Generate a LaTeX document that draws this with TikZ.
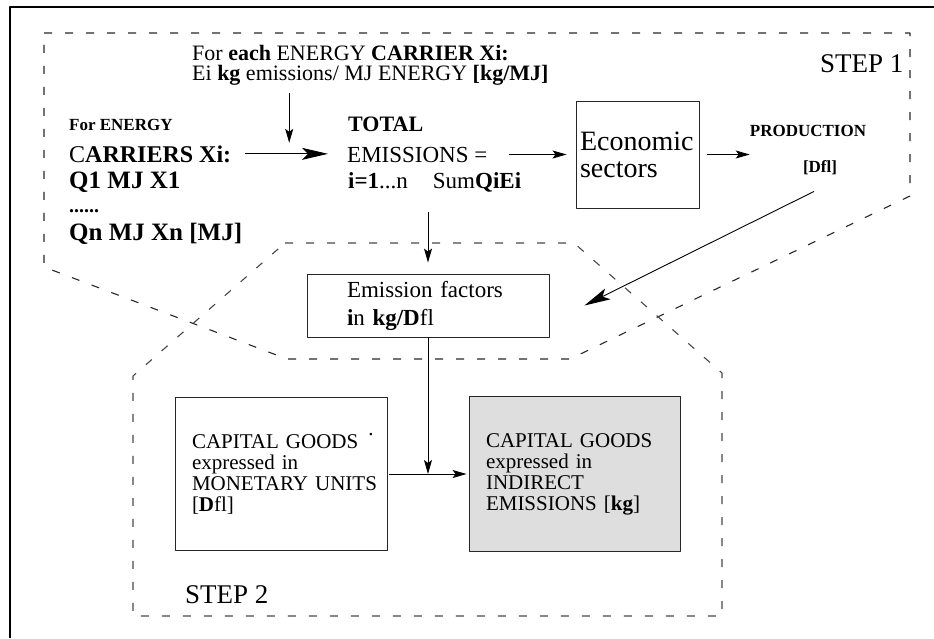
\documentclass[tikz,border=0pt]{standalone}
\usepackage{fontspec}
\setmainfont{Liberation Serif}
\usetikzlibrary{arrows.meta,calc}
\definecolor{stepgray}{RGB}{40,40,40}
\definecolor{indirectgray}{RGB}{222,222,222}

\begin{document}
\begin{tikzpicture}[x=1pt,y=-1pt,line join=round,
  txt/.style={inner sep=0pt,anchor=base west},
  flow/.style={-{Stealth[length=14pt,width=8pt,inset=3pt]},line width=0.9pt},
  bigflow/.style={-{Stealth[length=26pt,width=12pt,inset=6pt]},line width=0.9pt},
  stepline/.style={stepgray,line width=1.1pt,dash pattern=on 8pt off 13pt},
  sectorbox/.style={draw=black!85,line width=0.9pt,inner ysep=0pt,align=left}]
 \useasboundingbox (0,0) rectangle (934,638);
 % outer frame
 \draw[line width=2.5pt] (10,638) -- (10,7) -- (934,7);
 % the two steps
 \draw[stepline] (44,33) -- (910,33) -- (910,196) -- (570,359)
  -- (287,359) -- (44,267) -- cycle;
 \draw[stepline,stepgray!85] (285,243) -- (574,243) -- (722,373)
  -- (722,616) -- (133,616) -- (133,376) -- cycle;
 \node[txt,font=\fontsize{27}{27}\selectfont] (stepone) at (820,72) {STEP 1};
 \node[txt,font=\fontsize{27}{27}\selectfont] (steptwo) at (185,603) {STEP 2};
 % step 1
 \node[inner sep=0pt,anchor=north west,align=left,font=\fontsize{22}{20}\selectfont]
  (unitnote) at (192,45)
  {For \textbf{each} ENERGY \textbf{CARRIER Xi:}\\
   Ei \textbf{kg} emissions/ MJ ENERGY \textbf{[kg/MJ]}};
 \node[txt,font=\fontsize{17}{17}\selectfont\bfseries] (forenergy) at (69,130) {For ENERGY};
 \node[txt,font=\fontsize{24}{24}\selectfont] (carrier) at (69,162) {C\textbf{ARRIERS Xi:}};
 \node[txt,font=\fontsize{25}{25}\selectfont\bfseries] (qfirst) at (69,188) {Q1 MJ X1};
 \node[txt,font=\fontsize{20}{20}\selectfont\bfseries] (qdots) at (69,212) {......};
 \node[txt,font=\fontsize{25}{25}\selectfont\bfseries] (qlast) at (69,240) {Qn MJ Xn [MJ]};
 \node[txt,font=\fontsize{22}{22}\selectfont\bfseries] (total) at (348,131) {TOTAL};
 \node[txt,font=\fontsize{23}{23}\selectfont] (emis) at (347,162) {EMISSIONS =};
 \node[txt,font=\fontsize{23}{23}\selectfont] (sumrow) at (348,188)
  {\textbf{i=1}...n\hspace{25pt}Sum\textbf{QiEi}};
 \node[sectorbox,inner xsep=4pt,text width=115pt,minimum height=107pt,
  font=\fontsize{28}{27}\selectfont] (eco) at (637.5,154.5) {Economic\\sectors};
 \node[inner sep=0pt,anchor=north,align=center,font=\fontsize{17}{36}\selectfont\bfseries]
  (prod) at (808,125.5) {PRODUCTION\\\hspace*{24pt}[Dfl]};
 % step 2
 \node[sectorbox,inner xsep=40pt,text width=162pt,minimum height=63pt,
  font=\fontsize{23}{28}\selectfont] (factors) at (428,305.5)
  {Emission factors\\\textbf{i}n \textbf{kg/D}fl};
 \node[sectorbox,inner xsep=17pt,text width=178pt,minimum height=153pt,
  font=\fontsize{21}{21}\selectfont] (monetary) at (281,474)
  {\mbox{CAPITAL GOODS\hspace{10pt}\raisebox{13pt}{.}}\\expressed in\\
   \mbox{MONETARY UNITS}\\{}[\textbf{D}fl]};
 \node[sectorbox,fill=indirectgray,inner xsep=17pt,text width=177pt,minimum height=155pt,
  font=\fontsize{21}{21}\selectfont] (indirect) at (574.5,474)
  {CAPITAL GOODS\\expressed in\\INDIRECT\\EMISSIONS [\textbf{kg}]};
 % connectors
 \coordinate (merge) at ($(carrier.east)!0.5!(carrier.east -| emis.west)$);
 \draw[bigflow,shorten <=14pt,shorten >=19pt] (carrier.east) -- (carrier.east -| emis.west);
 \draw[flow] ($(unitnote.south -| merge)+(0,7)$) -- ($(merge)+(0,-11)$);
 \draw[flow,shorten <=21pt,shorten >=9pt] (emis.east) -- (emis.east -| eco.west);
 \draw[flow,shorten <=8pt] (eco.east) -- (eco.east -| prod.west);
 \draw[flow] ($(factors.north |- sumrow.south)+(0,20)$) -- ($(factors.north)+(0,-11)$);
 \draw[bigflow] ($(prod.south)+(6,16)$) -- ($(factors.east)+(35,0)$);
 \coordinate (junction) at (factors.south |- monetary.east);
 \draw[flow] (factors.south) -- (junction);
 \draw[flow,shorten <=2pt,shorten >=2pt] (monetary.east) -- (indirect.west);
\end{tikzpicture}
\end{document}
